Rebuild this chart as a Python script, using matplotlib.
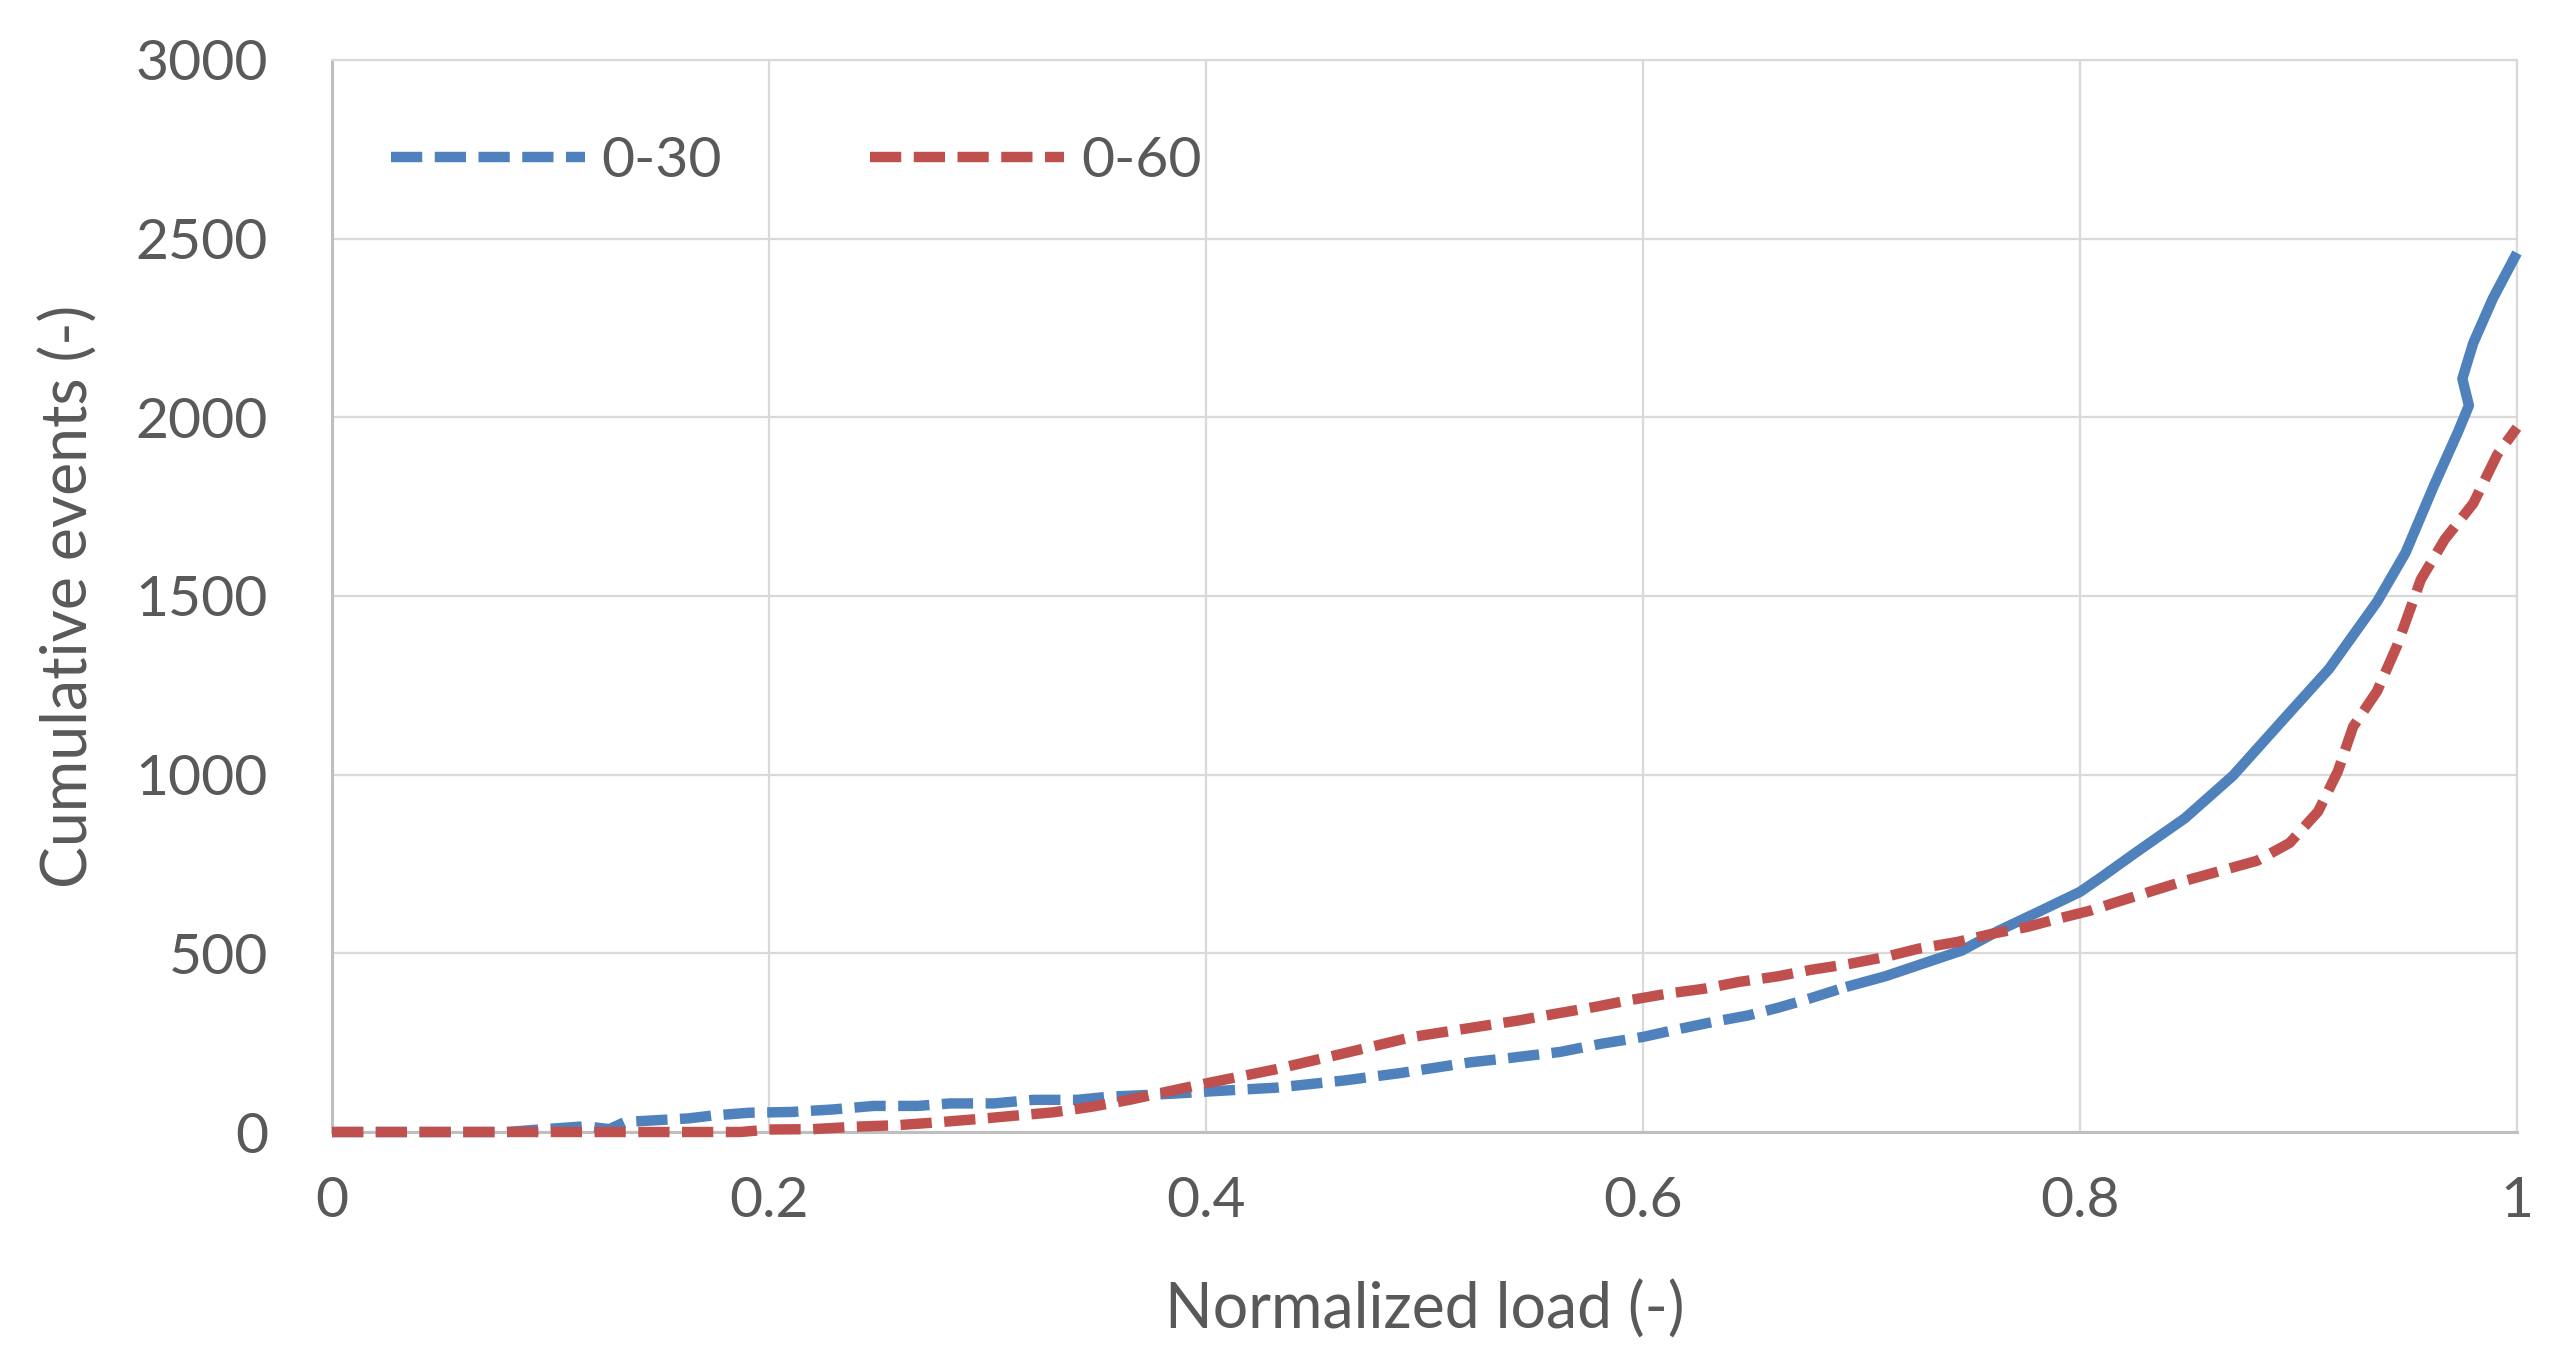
import numpy as np
import matplotlib
matplotlib.use("Agg")
import matplotlib.pyplot as plt

# series
load_030 = [0, 0.08, 0.095, 0.116, 0.127, 0.134, 0.163, 0.174, 0.191, 0.21, 0.229,
            0.248, 0.268, 0.283, 0.303, 0.321, 0.341, 0.356, 0.371, 0.387, 0.4,
            0.432, 0.463, 0.489, 0.521, 0.536, 0.562, 0.581, 0.6, 0.614, 0.632,
            0.648, 0.662, 0.676, 0.693, 0.711, 0.728, 0.746, 0.763, 0.781, 0.8,
            0.81, 0.826, 0.848, 0.87, 0.892, 0.914, 0.936, 0.949, 0.962, 0.973,
            0.978, 0.975, 0.98, 0.989, 1.0]
events_030 = [0, 0, 7, 16, 8, 28, 38, 46, 54, 56, 63,
              73, 73, 80, 80, 90, 90, 99, 103, 108, 113,
              124, 144, 165, 195, 205, 224, 247, 266, 285, 308,
              326, 348, 373, 406, 436, 471, 508, 564, 616, 672,
              714, 784, 878, 997, 1147, 1296, 1484, 1621, 1809, 1959,
              2033, 2108, 2208, 2333, 2460]

load_060 = [0, 0.187, 0.2, 0.22, 0.24, 0.2585, 0.277, 0.295, 0.313, 0.33, 0.348,
            0.365, 0.38, 0.396, 0.4315, 0.463, 0.4945, 0.526, 0.543, 0.56, 0.578,
            0.593, 0.611, 0.628, 0.644, 0.662, 0.677, 0.695, 0.711, 0.726, 0.744,
            0.76, 0.776, 0.79, 0.805, 0.815, 0.848, 0.881, 0.896, 0.909, 0.918,
            0.925, 0.936, 0.945, 0.956, 0.967, 0.98, 0.991, 1.0]
events_060 = [0, 0, 7, 8, 15, 19, 27, 36, 46, 55, 71,
              90, 110, 131, 175, 220, 266, 296, 312, 331, 350,
              368, 387, 401, 420, 436, 454, 471, 490, 513, 532,
              555, 574, 597, 620, 640, 703, 759, 809, 897, 1009,
              1134, 1234, 1359, 1546, 1659, 1759, 1896, 1971]

series_names = ["0-30", "0-60"]
x_ticks = [0, 0.2, 0.4, 0.6, 0.8, 1]
x_ticklabels = ["0", "0.2", "0.4", "0.6", "0.8", "1"]
y_ticks = [0, 500, 1000, 1500, 2000, 2500, 3000]

blue = "#4F81BD"
red = "#C0504D"
txt = "#595959"
plt.rcParams["font.family"] = ["Lato", "DejaVu Sans"]

fig = plt.figure(figsize=(25.54, 13.66), dpi=100)
ax = fig.add_axes([0.130, 0.1713, 0.8555, 0.7848])

# the 0-30 curve looks solid where the points get dense (Excel dash reset)
x1 = np.array(load_030)
y1 = np.array(events_030)
k = int(np.argmax(x1 >= 0.693))
lw = 7.5
dash = (3.0, 1.2)
ax.plot(x1[:k + 1], y1[:k + 1], color=blue, lw=lw, dashes=dash,
        dash_capstyle="butt", clip_on=False, zorder=3, label=series_names[0])
ax.plot(x1[k:], y1[k:], color=blue, lw=lw, solid_capstyle="butt",
        solid_joinstyle="round", clip_on=False, zorder=3)
ax.plot(load_060, events_060, color=red, lw=lw, dashes=dash,
        dash_capstyle="butt", clip_on=False, zorder=3, label=series_names[1])

ax.set_xlim(0, 1)
ax.set_ylim(0, 3000)
ax.set_xticks(x_ticks)
ax.set_xticklabels(x_ticklabels)
ax.set_yticks(y_ticks)
ax.tick_params(axis="both", length=0, labelsize=41, labelcolor=txt)
ax.tick_params(axis="x", pad=32)
ax.tick_params(axis="y", pad=46)
ax.grid(True, color="#D9D9D9", lw=1.6, zorder=0)
ax.set_axisbelow(True)
for s in ["top", "right"]:
    ax.spines[s].set_color("#D9D9D9")
    ax.spines[s].set_linewidth(1.6)
for s in ["left", "bottom"]:
    ax.spines[s].set_color("#BFBFBF")
    ax.spines[s].set_linewidth(2.2)

ax.set_xlabel("Normalized load (-)", fontsize=45, color=txt)
ax.set_ylabel("Cumulative events (-)", fontsize=45, color=txt)
ax.xaxis.set_label_coords(0.5, -0.138)
ax.yaxis.set_label_coords(-0.107, 0.5)

ax.legend(loc="center left", bbox_to_anchor=(0.027, 0.905), ncol=2, frameon=False,
          fontsize=41, labelcolor=txt, handlelength=3.4, handletextpad=0.3,
          columnspacing=2.6, borderaxespad=0, borderpad=0)

fig.savefig("out.png", dpi=100, facecolor="white")
